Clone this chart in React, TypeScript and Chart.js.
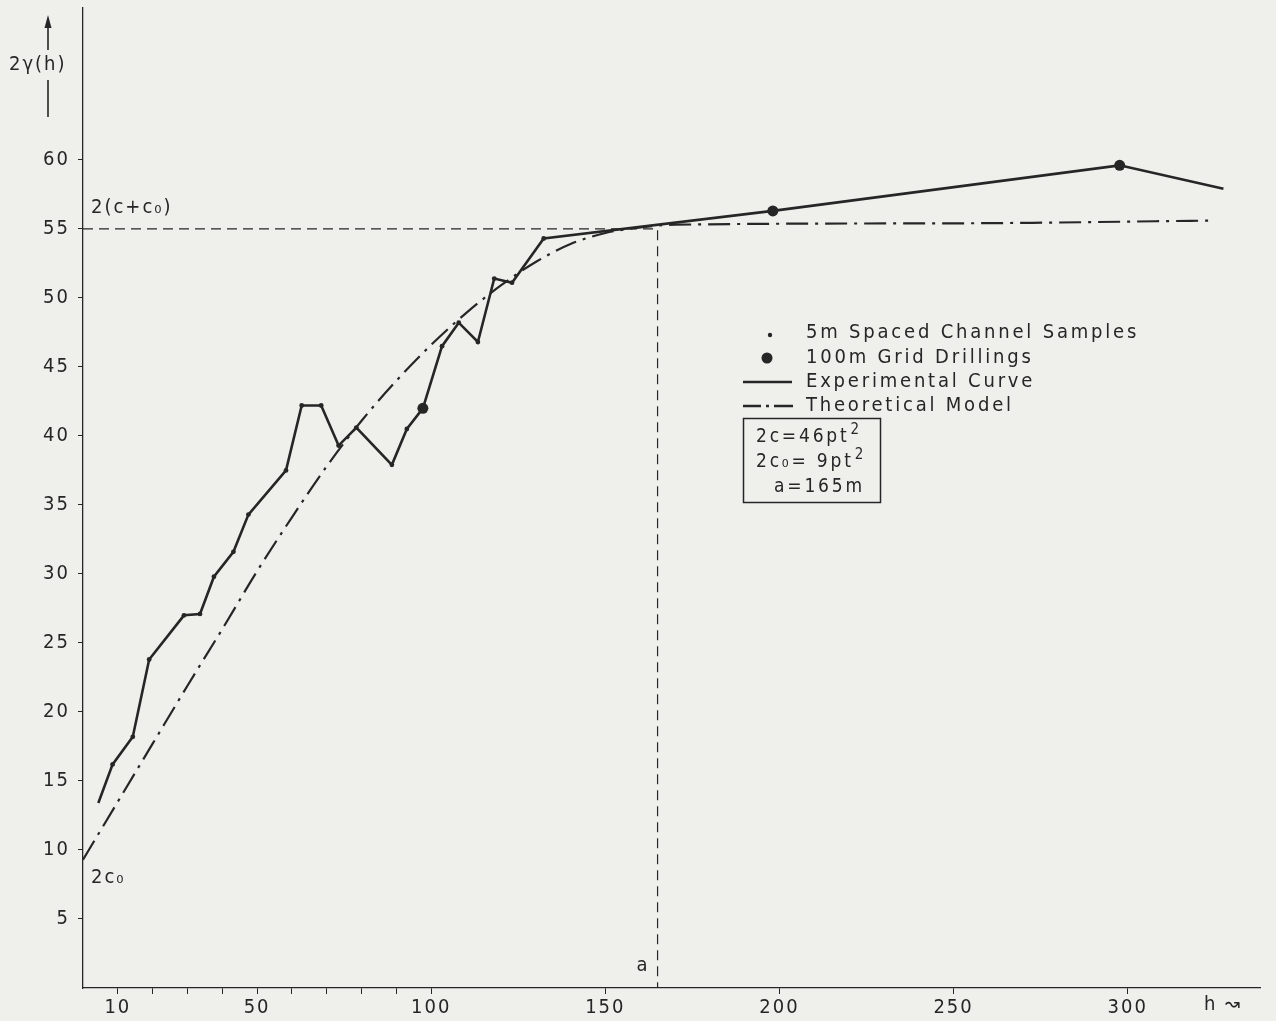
import React, { useEffect, useRef } from "react";
import { Chart, registerables } from "chart.js";

Chart.register(...registerables);

// ---- data ----
const expH = [4.4, 8.5, 14.3, 19.0, 29.0, 33.6, 37.6, 43.2, 47.5, 58.3, 62.8, 68.4, 73.4, 78.5, 88.7, 93.0, 97.6, 103.1, 107.9, 113.4, 118.1, 123.2, 132.3, 198.1, 297.7, 327.5];
const expV = [13.4, 16.2, 18.2, 23.8, 27.0, 27.1, 29.8, 31.6, 34.3, 37.5, 42.2, 42.2, 39.3, 40.6, 37.9, 40.5, 42.0, 46.5, 48.2, 46.8, 51.4, 51.1, 54.3, 56.3, 59.6, 57.9];

const gridH = [97.6, 198.1, 297.7];
const gridV = [42.0, 56.3, 59.6];

const theoH = [0, 10, 20, 30, 40, 50, 60, 70, 80, 90, 100, 110, 120, 130, 140, 150, 160, 170, 250, 325];
const theoV = [9.3, 13.5, 17.7, 21.9, 26.0, 30.2, 34.1, 37.8, 41.1, 44.0, 46.6, 48.9, 50.9, 52.6, 53.9, 54.7, 55.1, 55.3, 55.4, 55.6];

const sill = 55;
const range = 165;

const xTicks = [10, 20, 30, 40, 50, 60, 70, 80, 90, 100, 150, 200, 250, 300];
const xLabels = [10, 50, 100, 150, 200, 250, 300];
const yTicks = [5, 10, 15, 20, 25, 30, 35, 40, 45, 50, 55, 60];

const legendLabels = ["5m Spaced Channel Samples", "100m Grid Drillings", "Experimental Curve", "Theoretical Model"];
const paramLines = [["2c=46pt", "2"], ["2c\u2080= 9pt", "2"], ["a=165m", ""]];

const yTitle = "2\u03b3(h)";
const xTitle = "h \u219d";
const sillLabel = "2(c+c\u2080)";
const nuggetLabel = "2c\u2080";
const rangeLabel = "a";

const INK = "#262626";
const PAPER = "#efefec";
const FONT = '"DejaVu Sans Condensed", "DejaVu Sans", sans-serif';

const bgPlugin = {
  id: "paper",
  beforeDraw(chart: any) {
    const ctx = chart.ctx;
    ctx.save();
    ctx.fillStyle = PAPER;
    ctx.fillRect(0, 0, chart.width, chart.height);
    ctx.restore();
    (ctx as any).letterSpacing = "2px";
  },
};

const annoPlugin = {
  id: "annotations",
  afterDraw(chart: any) {
    const ctx = chart.ctx;
    const xs = chart.scales.x;
    const ys = chart.scales.y;
    const area = chart.chartArea;
    ctx.save();
    ctx.fillStyle = INK;
    ctx.strokeStyle = INK;
    ctx.textBaseline = "middle";
    (ctx as any).letterSpacing = "2px";

    // y title with arrow
    ctx.font = `20px ${FONT}`;
    ctx.textAlign = "left";
    ctx.fillText(yTitle, 9, 65);
    ctx.lineWidth = 1.6;
    ctx.beginPath();
    ctx.moveTo(48, 24);
    ctx.lineTo(48, 50);
    ctx.moveTo(48, 80);
    ctx.lineTo(48, 117);
    ctx.stroke();
    ctx.beginPath();
    ctx.moveTo(48, 15);
    ctx.lineTo(44.5, 28);
    ctx.lineTo(51.5, 28);
    ctx.closePath();
    ctx.fill();

    // sill & nugget & range labels
    ctx.fillText(sillLabel, area.left + 8, ys.getPixelForValue(sill) - 21);
    ctx.fillText(nuggetLabel, area.left + 8, ys.getPixelForValue(theoV[0]) + 18);
    ctx.textAlign = "right";
    ctx.fillText(rangeLabel, xs.getPixelForValue(range) - 8, area.bottom - 22);

    // x title
    ctx.textAlign = "left";
    ctx.fillText(xTitle, 1204, 1005);

    // legend
    (ctx as any).letterSpacing = "2.8px";
    const lx = 806;
    const rows = [333, 358, 382, 406];
    ctx.font = `20px ${FONT}`;
    legendLabels.forEach((t, i) => ctx.fillText(t, lx, rows[i]));
    ctx.beginPath();
    ctx.arc(770, rows[0] + 2, 2.2, 0, Math.PI * 2);
    ctx.fill();
    ctx.beginPath();
    ctx.arc(767, rows[1], 5.5, 0, Math.PI * 2);
    ctx.fill();
    ctx.lineWidth = 2.4;
    ctx.beginPath();
    ctx.moveTo(743, rows[2]);
    ctx.lineTo(792, rows[2]);
    ctx.stroke();
    ctx.beginPath();
    ctx.moveTo(743, rows[3]);
    ctx.lineTo(761, rows[3]);
    ctx.moveTo(766, rows[3]);
    ctx.lineTo(769, rows[3]);
    ctx.moveTo(774, rows[3]);
    ctx.lineTo(793, rows[3]);
    ctx.stroke();

    // parameter box
    ctx.lineWidth = 1.5;
    ctx.strokeRect(743.5, 418.5, 137, 84);
    const prow = [437, 462, 487];
    const px = [756, 756, 774];
    paramLines.forEach((p, i) => {
      ctx.font = `19px ${FONT}`;
      ctx.fillText(p[0], px[i], prow[i]);
      const w = ctx.measureText(p[0]).width;
      if (p[1]) {
        ctx.font = `15px ${FONT}`;
        ctx.fillText(p[1], px[i] + w + 1, prow[i] - 7);
      }
    });
    ctx.restore();
  },
};

export default function App() {
  const ref = useRef<HTMLCanvasElement | null>(null);

  useEffect(() => {
    document.body.style.margin = "0";
    document.body.style.background = PAPER;
    const canvas = ref.current;
    if (!canvas) return;
    const n = expH.length;
    const chart = new Chart(canvas, {
      type: "line",
      data: {
        datasets: [
          {
            label: "sill",
            data: [
              { x: 0, y: sill },
              { x: range, y: sill },
              { x: range, y: 0 },
            ],
            borderColor: INK,
            borderWidth: 1.2,
            borderDash: [10, 6],
            pointRadius: 0,
            fill: false,
          },
          {
            label: legendLabels[3],
            data: theoH.map((h, i) => ({ x: h, y: theoV[i] })),
            borderColor: INK,
            borderWidth: 2.2,
            borderDash: [22, 7, 3, 7],
            pointRadius: 0,
            cubicInterpolationMode: "monotone",
            fill: false,
          },
          {
            label: legendLabels[2],
            data: expH.map((h, i) => ({ x: h, y: expV[i] })),
            borderColor: INK,
            borderWidth: 2.6,
            tension: 0,
            pointRadius: (c: any) => (c.dataIndex === 0 || c.dataIndex === n - 1 ? 0 : 2.4),
            pointBackgroundColor: INK,
            pointBorderWidth: 0,
            fill: false,
          },
          {
            label: legendLabels[1],
            data: gridH.map((h, i) => ({ x: h, y: gridV[i] })),
            showLine: false,
            pointRadius: 5.5,
            pointBackgroundColor: INK,
            pointBorderWidth: 0,
          },
        ],
      },
      options: {
        responsive: false,
        animation: false,
        devicePixelRatio: 1,
        layout: { padding: { top: 8, right: 16, left: 0, bottom: 0 } },
        plugins: { legend: { display: false }, tooltip: { enabled: false } },
        scales: {
          x: {
            type: "linear",
            min: 0,
            max: 338,
            afterFit: (s: any) => {
              s.height = 33;
              s.paddingLeft = 0;
              s.paddingRight = 0;
            },
            afterBuildTicks: (s: any) => {
              s.ticks = xTicks.map((v) => ({ value: v }));
            },
            ticks: {
              autoSkip: false,
              maxRotation: 0,
              padding: 2,
              color: INK,
              font: { family: FONT, size: 20 },
              callback: (v: any) => (xLabels.includes(Number(v)) ? String(v) : ""),
            },
            grid: { drawOnChartArea: false, drawTicks: true, tickLength: 6, color: INK },
            border: { display: true, color: INK, width: 1.3 },
          },
          y: {
            type: "linear",
            min: 0,
            max: 71,
            afterFit: (s: any) => {
              s.width = 83;
              s.paddingTop = 0;
              s.paddingBottom = 0;
            },
            afterBuildTicks: (s: any) => {
              s.ticks = yTicks.map((v) => ({ value: v }));
            },
            ticks: {
              autoSkip: false,
              padding: 8,
              color: INK,
              font: { family: FONT, size: 20 },
              callback: (v: any) => String(v),
            },
            grid: { drawOnChartArea: false, drawTicks: true, tickLength: 5, color: INK },
            border: { display: true, color: INK, width: 1.3 },
          },
        },
      },
      plugins: [bgPlugin, annoPlugin],
    } as any);
    return () => chart.destroy();
  }, []);

  return <canvas ref={ref} width={1276} height={1021} style={{ display: "block", width: 1276, height: 1021 }} />;
}
